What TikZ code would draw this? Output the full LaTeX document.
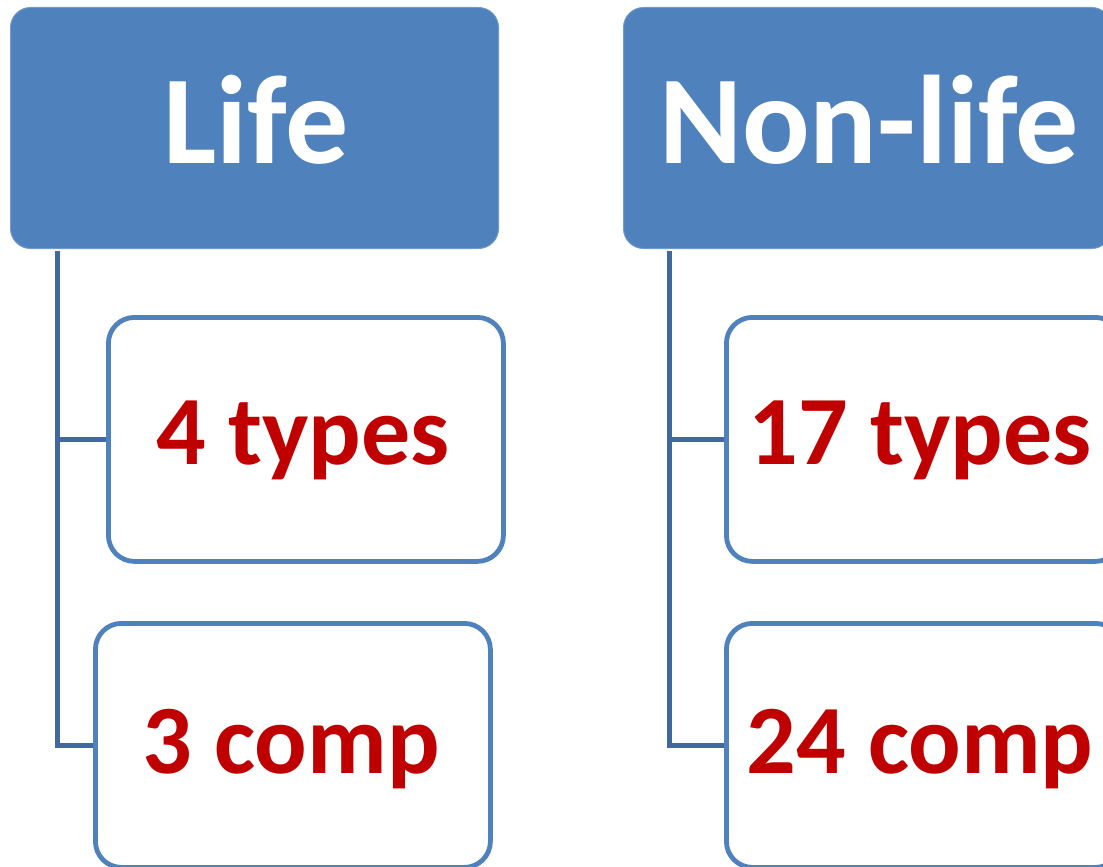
\documentclass[tikz,border=0pt]{standalone}
\usepackage{fontspec}
\setmainfont{Carlito}
\definecolor{headblue}{RGB}{79,129,189}
\definecolor{linkblue}{RGB}{65,105,160}
\definecolor{darkred}{RGB}{192,0,0}
\tikzset{
  headbox/.style={rectangle, rounded corners=20pt, fill=headblue, draw=headblue!80!white, line width=1pt,
    minimum width=488pt, minimum height=241pt, inner sep=0pt, anchor=north west},
  childbox/.style={rectangle, rounded corners=26pt, draw=headblue, line width=4.8pt, fill=white,
    minimum width=395pt, minimum height=244pt, inner sep=0pt, anchor=north west},
  headtext/.style={text=white, font=\bfseries\fontsize{126}{126}\selectfont, anchor=base, inner sep=0pt},
  childtext/.style={text=darkred, font=\bfseries\fontsize{98}{98}\selectfont, anchor=base, inner sep=0pt},
  link/.style={draw=linkblue, line width=5pt}
}
\begin{document}
\begin{tikzpicture}[x=1pt,y=1pt]
\useasboundingbox (0,0) rectangle (1103,-867);
% headers
\node[headbox] (lifeHead) at (10,-7) {};
\node[headbox] (nonHead) at (623,-7) {};
\node[headtext] (lifeText) at (256,-163) {Life};
\node[headtext] (nonText) at (869,-163) {Non-life};
% child boxes
\node[childbox] (lb1) at (106,-315) {};
\node[childbox] (lb2) at (93,-621) {};
\node[childbox] (nb1) at (724,-315) {};
\node[childbox] (nb2) at (724,-621) {};
\node[childtext] (lt1) at (303,-464) {4 types};
\node[childtext] (lt2) at (291,-773) {3 comp};
\node[childtext] (nt1) at (920,-464) {17 types};
\node[childtext] (nt2) at (920,-773) {24 comp};
% connectors
\coordinate (lifeRoot) at (57,-251);
\coordinate (nonRoot) at (669,-251);
\draw[link] (lifeRoot) |- (lb1.west);
\draw[link] (lifeRoot) |- (lb2.west);
\draw[link] (nonRoot) |- (nb1.west);
\draw[link] (nonRoot) |- (nb2.west);
\end{tikzpicture}
\end{document}
